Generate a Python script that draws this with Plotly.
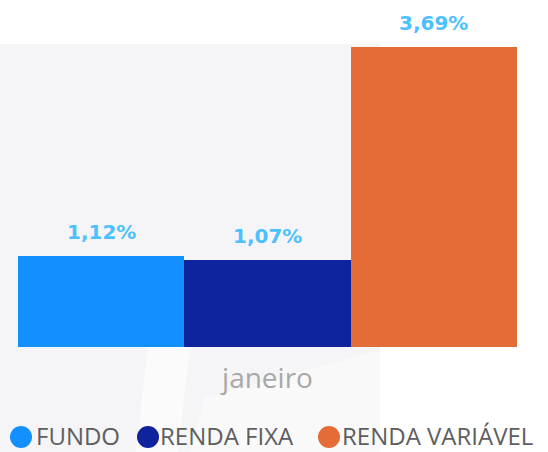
import plotly.graph_objects as go

categories = ["janeiro"]
series_names = ["FUNDO", "RENDA FIXA", "RENDA VARIÁVEL"]
series_values = [1.12, 1.07, 3.69]
series_labels = ["1,12%", "1,07%", "3,69%"]
series_colors = ["#1290ff", "#10239e", "#e46c37"]

W, H = 548, 452
L, R, T, B = 18, 31, 10, 105
pw, ph = W - L - R, H - T - B


def px(x):
    return (x - L) / pw


def py(y):
    return (H - B - y) / ph


fig = go.Figure()
for name, val, col in zip(series_names, series_values, series_colors):
    fig.add_trace(go.Bar(x=categories, y=[val], name=name, marker_color=col,
                         marker_line_width=0, showlegend=False,
                         hoverinfo="skip"))

n = len(series_values)
annotations = []
for i, (val, lab) in enumerate(zip(series_values, series_labels)):
    annotations.append(dict(
        x=(i - (n - 1) / 2) / n, y=val, xref="x", yref="y", text=lab,
        showarrow=False, yanchor="bottom", yshift=10,
        font=dict(family="Comic Sans MS, DejaVu Sans", size=20, color="#4dc0ff", weight="bold")))

# manual legend
legend_circle_x = [10, 137, 318]
legend_text_x = [35, 159, 341]
shapes = [
    dict(type="rect", xref="paper", yref="paper", x0=px(0), x1=px(380), y0=py(452), y1=py(44),
         fillcolor="#f5f5f7", line_width=0, layer="below"),
    dict(type="path", xref="paper", yref="paper",
         path=f"M {px(148)} {py(347)} L {px(190)} {py(347)} L {px(178)} {py(452)} L {px(136)} {py(452)} Z",
         fillcolor="#fbfbfc", line_width=0, layer="below"),
    dict(type="path", xref="paper", yref="paper",
         path=f"M {px(205)} {py(398)} L {px(380)} {py(350)} L {px(380)} {py(452)} L {px(190)} {py(452)} Z",
         fillcolor="#f9f9fa", line_width=0, layer="below"),
]
for cx, tx, name, col in zip(legend_circle_x, legend_text_x, series_names, series_colors):
    shapes.append(dict(type="circle", xref="paper", yref="paper",
                       x0=px(cx), x1=px(cx + 22), y0=py(448), y1=py(426),
                       fillcolor=col, line_width=0))
    annotations.append(dict(x=px(tx), y=py(436), xref="paper", yref="paper", text=name,
                            showarrow=False, xanchor="left", yanchor="middle", borderpad=0,
                            font=dict(family="Open Sans", size=24, color="#5e5e5e")))

fig.update_layout(
    width=W, height=H,
    margin=dict(l=L, r=R, t=T, b=B),
    paper_bgcolor="white", plot_bgcolor="rgba(0,0,0,0)",
    barmode="group", bargap=0, bargroupgap=0,
    showlegend=False,
    shapes=shapes, annotations=annotations,
    xaxis=dict(showgrid=False, zeroline=False, showline=False, ticks="",
               ticklabelstandoff=12,
               tickfont=dict(family="Open Sans", size=28, color="#a8a8a8")),
    yaxis=dict(range=[0, 4.145], showgrid=False, zeroline=False, showline=False,
               showticklabels=False, ticks=""),
)

fig.write_html("out.html", config={"displayModeBar": False},
               post_script="document.body.style.margin='0';document.body.style.overflow='hidden';")
